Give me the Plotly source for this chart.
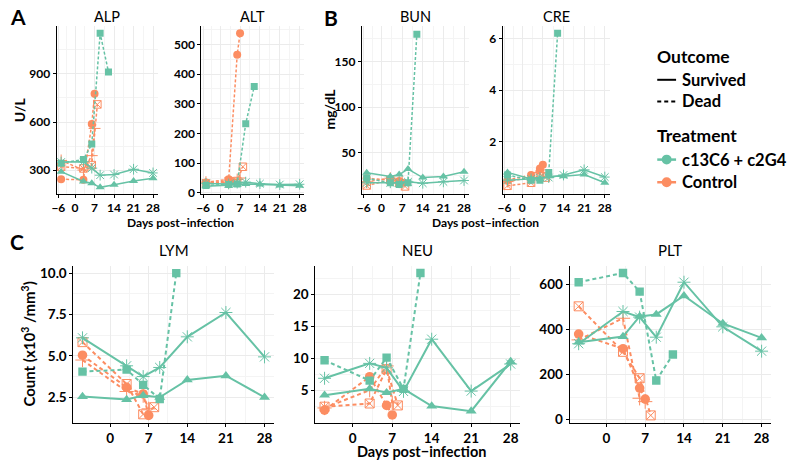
import plotly.graph_objects as go

GREEN = "#66C2A5"
ORANGE = "#FC8D62"

# ---- sampling days per animal ----
DAYS_SURV = [-5, 3, 6, 9, 14, 21, 28]   # survivors (star, triangle)
DAYS_GSQ = [-5, 3, 6, 9, 12]            # treated, dead (square)
DAYS_CIRC = [-5, 3, 6, 7]               # control (circle)
DAYS_SQX = [-5, 3, 6, 8]                # control (boxed x)
DAYS_PLUS = [-5, 3, 6, 7]               # control (plus)

# ---- values: ALP (U/L) ----
ALP_STAR = [350, 352, 312, 268, 272, 305, 282]
ALP_TRI = [290, 229, 218, 192, 208, 232, 249]
ALP_SQ = [343, 366, 462, 1154, 913]
ALP_CIRC = [243, 239, 587, 776]
ALP_SQX = [321, 310, 331, 710]
ALP_PLUS = [360, 300, 390, 560]
# ---- ALT (U/L) ----
ALT_STAR = [32, 30, 33, 36, 31, 28, 29]
ALT_TRI = [22, 25, 27, 30, 28, 25, 24]
ALT_SQ = [25, 28, 30, 233, 358]
ALT_CIRC = [35, 46, 465, 537]
ALT_SQX = [32, 40, 40, 88]
ALT_PLUS = [36, 34, 45, 50]
# ---- BUN (mg/dL) ----
BUN_STAR = [17, 17, 17, 18, 16.5, 18, 19.5]
BUN_TRI = [28, 24, 26, 32, 22.7, 24, 29]
BUN_SQ = [22, 17, 15, 17, 180]
BUN_CIRC = [22, 20, 19, 17]
BUN_SQX = [14, 20, 17, 13]
BUN_PLUS = [18, 22, 20, 18]
# ---- CRE (mg/dL) ----
CRE_STAR = [0.5, 0.55, 0.6, 0.6, 0.7, 0.9, 0.62]
CRE_TRI = [0.8, 0.55, 0.55, 0.65, 0.65, 0.72, 0.4]
CRE_SQ = [0.7, 0.5, 0.5, 0.8, 6.2]
CRE_CIRC = [0.5, 0.7, 0.95, 1.1]
CRE_SQX = [0.28, 0.4, 0.75, 0.6]
CRE_PLUS = [0.45, 0.6, 0.8, 0.9]
# ---- LYM (x10^3/mm^3) ----
LYM_STAR = [6.09, 4.4, 3.75, 4.3, 6.15, 7.62, 4.94]
LYM_TRI = [2.54, 2.36, 2.6, 2.5, 3.55, 3.8, 2.5]
LYM_SQ = [4.05, 4.17, 3.25, 2.4, 10.0]
LYM_CIRC = [5.04, 3.1, 2.7, 1.4]
LYM_SQX = [5.83, 3.3, 1.47, 1.9]
LYM_PLUS = [4.75, 2.85, 2.6, 1.8]
# ---- NEU ----
NEU_STAR = [6.86, 9.2, 8.5, 4.8, 13.0, 4.85, 9.1]
NEU_TRI = [4.2, 5.2, 4.6, 5.2, 2.5, 1.7, 9.5]
NEU_SQ = [9.7, 6.5, 10.1, 5.2, 23.4]
NEU_CIRC = [1.86, 7.1, 2.6, 1.1]
NEU_SQX = [2.4, 2.9, 8.3, 2.6]
NEU_PLUS = [2.2, 5.0, 8.8, 3.0]
# ---- PLT ----
PLT_STAR = [337, 480, 455, 366, 610, 412, 304]
PLT_TRI = [344, 369, 458, 467, 550, 427, 363]
PLT_SQ = [610, 651, 568, 174, 289]
PLT_CIRC = [380, 315, 140, 91]
PLT_SQX = [503, 301, 184, 19]
PLT_PLUS = [354, 450, 95, 80]

X_TICKS_TOP = [-6, 0, 7, 14, 21, 28]
X_TICKTEXT_TOP = ["\u22126", "0", "7", "14", "21", "28"]
X_TICKS_BOT = [0, 7, 14, 21, 28]
X_TICKTEXT_BOT = ["0", "7", "14", "21", "28"]
X_MINOR_TOP = [-3, 3.5, 10.5, 17.5, 24.5]
X_MINOR_BOT = [3.5, 10.5, 17.5, 24.5]

W, H = 800, 468
FONT = "Lato"


def fx(p):
    return p / W


def fy(p):
    return 1 - p / H


# panel: title, values(star,tri,sq,circ,sqx,plus), box px (x0,x1,ytop,ybot), yrange, yticks, yticktext, yminor, top?
PANELS = [
    ("ALP", (ALP_STAR, ALP_TRI, ALP_SQ, ALP_CIRC, ALP_SQX, ALP_PLUS), (52, 154, 25, 196),
     [150, 1202], [300, 600, 900], ["300", "600", "900"], [450, 750, 1050], True),
    ("ALT", (ALT_STAR, ALT_TRI, ALT_SQ, ALT_CIRC, ALT_SQX, ALT_PLUS), (198, 302, 25, 196),
     [-4, 563], [0, 100, 200, 300, 400, 500], ["0", "100", "200", "300", "400", "500"],
     [50, 150, 250, 350, 450, 550], True),
    ("BUN", (BUN_STAR, BUN_TRI, BUN_SQ, BUN_CIRC, BUN_SQX, BUN_PLUS), (360, 468, 25, 196),
     [4.6, 189.4], [50, 100, 150], ["50", "100", "150"], [25, 75, 125, 175], True),
    ("CRE", (CRE_STAR, CRE_TRI, CRE_SQ, CRE_CIRC, CRE_SQX, CRE_PLUS), (502, 610, 25, 196),
     [-0.04, 6.5], [2, 4, 6], ["2", "4", "6"], [1, 3, 5], True),
    ("LYM", (LYM_STAR, LYM_TRI, LYM_SQ, LYM_CIRC, LYM_SQX, LYM_PLUS), (69, 271, 269, 428),
     [0.97, 10.43], [2.5, 5.0, 7.5, 10.0], ["2.5", "5.0", "7.5", "10.0"],
     [3.75, 6.25, 8.75], False),
    ("NEU", (NEU_STAR, NEU_TRI, NEU_SQ, NEU_CIRC, NEU_SQX, NEU_PLUS), (313, 519.5, 269, 428),
     [-0.1, 24.5], [5, 10, 15, 20], ["5", "10", "15", "20"], [2.5, 7.5, 12.5, 17.5, 22.5], False),
    ("PLT", (PLT_STAR, PLT_TRI, PLT_SQ, PLT_CIRC, PLT_SQX, PLT_PLUS), (569.5, 772.5, 269, 428),
     [-13, 682], [0, 200, 400, 600], ["0", "200", "400", "600"], [100, 300, 500], False),
]

fig = go.Figure()
layout = {}
annotations = []

for i, (title, vals, box, yr, yt, ytt, ymin, top) in enumerate(PANELS, start=1):
    star, tri, sq, circ, sqx, plus = vals
    xa = "x" if i == 1 else f"x{i}"
    ya = "y" if i == 1 else f"y{i}"
    s = 1.0 if top else 1.2
    lw = 1.5 if top else 2.0
    dash = "3px,2px" if top else "4px,3px"
    animals = [
        (DAYS_CIRC, circ, ORANGE, "circle", dash, 8, False),
        (DAYS_SQX, sqx, ORANGE, "square-x-open", dash, 7.5, True),
        (DAYS_PLUS, plus, ORANGE, "cross-thin-open", dash, 8.5, True),
        (DAYS_GSQ, sq, GREEN, "square", dash, 7, False),
        (DAYS_SURV, tri, GREEN, "triangle-up", "solid", 8, False),
        (DAYS_SURV, star, GREEN, "asterisk-open", "solid", 9, True),
    ]
    for days, v, col, sym, dsh, msz, opn in animals:
        fig.add_trace(go.Scatter(
            x=days, y=v, xaxis=xa, yaxis=ya, mode="lines+markers",
            line=dict(color=col, width=lw, dash=dsh),
            marker=dict(symbol=sym, size=msz * s, color=col,
                        line=dict(color=col, width=1.0 if opn else 0)),
            showlegend=False, hoverinfo="skip"))

    x0, x1, yt0, yb0 = box
    ax = dict(
        domain=[fx(x0), fx(x1)], anchor=ya, range=[-6.65, 29.65],
        tickmode="array",
        tickvals=X_TICKS_TOP if top else X_TICKS_BOT,
        ticktext=X_TICKTEXT_TOP if top else X_TICKTEXT_BOT,
        showline=True, linecolor="black", linewidth=1,
        ticks="outside", ticklen=3, tickwidth=1, tickcolor="black",
        tickfont=dict(family=FONT, size=12 if top else 13.5, color="black", weight="bold"),
        showgrid=True, gridcolor="#ebebeb", gridwidth=0.7, zeroline=False,
        minor=dict(tickmode="array", tickvals=X_MINOR_TOP if top else X_MINOR_BOT,
                   showgrid=True, gridcolor="#f4f4f4", gridwidth=0.5, ticks=""),
    )
    ay = dict(
        domain=[fy(yb0), fy(yt0)], anchor=xa, range=yr,
        tickmode="array", tickvals=yt, ticktext=ytt,
        showline=True, linecolor="black", linewidth=1,
        ticks="outside", ticklen=3, tickwidth=1, tickcolor="black",
        tickfont=dict(family=FONT, size=12 if top else 13.5, color="black", weight="bold"),
        showgrid=True, gridcolor="#ebebeb", gridwidth=0.7, zeroline=False,
        minor=dict(tickmode="array", tickvals=ymin,
                   showgrid=True, gridcolor="#f4f4f4", gridwidth=0.5, ticks=""),
    )
    layout["xaxis" if i == 1 else f"xaxis{i}"] = ax
    layout["yaxis" if i == 1 else f"yaxis{i}"] = ay
    # panel title
    annotations.append(dict(
        text=title, x=fx((x0 + x1) / 2), y=fy(16 if top else 253), xref="paper", yref="paper",
        xanchor="center", yanchor="middle", showarrow=False,
        font=dict(family=FONT, size=14.5 if top else 15, color="black")))


def ann(text, x, y, size, bold=True, xanchor="center", angle=0):
    annotations.append(dict(
        text=text, x=fx(x), y=fy(y), xref="paper", yref="paper", xanchor=xanchor,
        yanchor="middle", showarrow=False, textangle=angle,
        font=dict(family=FONT, size=size, color="black", weight="bold" if bold else "normal")))


# panel letters
ann("A", 13, 16, 21)
ann("B", 329, 17, 21)
ann("C", 12, 244, 21)
# axis titles
ann("U/L", 14, 110, 14, angle=-90)
ann("mg/dL", 327, 110, 14, angle=-90)
ann("Count (x10<sup>3</sup> /mm<sup>3</sup>)", 24, 348, 15, angle=-90)
ann("Days post\u2212infection", 177, 224.5, 12)
ann("Days post\u2212infection", 485, 224.5, 12)
ann("Days post\u2212infection", 420, 457, 14.5)

# legend (manual, ggplot style)
ann("Outcome", 656, 56, 17.5, xanchor="left")
ann("Survived", 681, 80, 16.5, xanchor="left")
ann("Dead", 681, 102, 16.5, xanchor="left")
ann("Treatment", 656, 137, 17.5, xanchor="left")
ann("c13C6 + c2G4", 681, 161, 16.5, xanchor="left")
ann("Control", 681, 184, 16.5, xanchor="left")

shapes = [
    dict(type="line", xref="paper", yref="paper", x0=fx(658), x1=fx(677), y0=fy(80), y1=fy(80),
         line=dict(color="black", width=2)),
    dict(type="line", xref="paper", yref="paper", x0=fx(658), x1=fx(677), y0=fy(102), y1=fy(102),
         line=dict(color="black", width=2, dash="4px,3px")),
    dict(type="line", xref="paper", yref="paper", x0=fx(658), x1=fx(677), y0=fy(161), y1=fy(161),
         line=dict(color=GREEN, width=2.5)),
    dict(type="line", xref="paper", yref="paper", x0=fx(658), x1=fx(677), y0=fy(184), y1=fy(184),
         line=dict(color=ORANGE, width=2.5)),
]
for yy, col in ((161, GREEN), (184, ORANGE)):
    shapes.append(dict(type="circle", xref="paper", yref="paper",
                       x0=fx(667.5 - 5), x1=fx(667.5 + 5), y0=fy(yy + 5), y1=fy(yy - 5),
                       fillcolor=col, line=dict(color=col, width=0)))

fig.update_layout(
    width=W, height=H, margin=dict(l=0, r=0, t=0, b=0),
    paper_bgcolor="white", plot_bgcolor="white",
    annotations=annotations, shapes=shapes, showlegend=False,
    **layout)

fig.write_html("out.html", config={"displayModeBar": False},
               post_script="document.body.style.margin='0px';")
